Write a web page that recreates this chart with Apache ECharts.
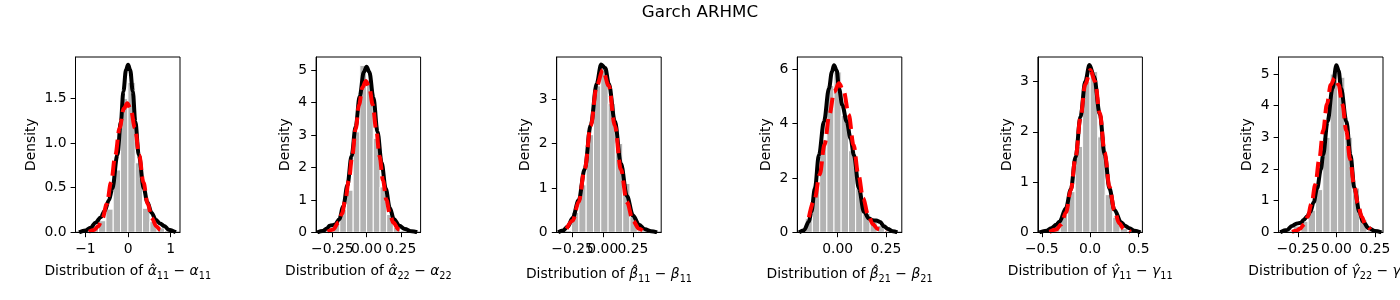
<!DOCTYPE html>
<html><head><meta charset="utf-8">
<script src="https://cdn.jsdelivr.net/npm/echarts@6/dist/echarts.min.js"></script>
<style>html,body{margin:0;padding:0;background:#fff}#c{width:1400px;height:300px}</style>
</head><body><div id="c"></div>
<script>
const titleText = 'Garch ARHMC';
const xAxisNames = [
  '{t|Distribution of }{g|α̂}{s|11}{t| − }{g|α}{s|11}',
  '{t|Distribution of }{g|α̂}{s|22}{t| − }{g|α}{s|22}',
  '{t|Distribution of }{g|β̂}{s|11}{t| − }{g|β}{s|11}',
  '{t|Distribution of }{g|β̂}{s|21}{t| − }{g|β}{s|21}',
  '{t|Distribution of }{g|γ̂}{s|11}{t| − }{g|γ}{s|11}',
  '{t|Distribution of }{g|γ̂}{s|22}{t| − }{g|γ}{s|22}'
];
const yAxisName = 'Density';

// Panel 1: alpha11
const hist1Edges = [-0.865, -0.693, -0.521, -0.349, -0.177, -0.005, 0.167, 0.339, 0.511, 0.683, 0.855];
const hist1Heights = [0.06, 0.13, 0.26, 0.70, 1.50, 1.68, 0.78, 0.27, 0.12, 0.05];
const kde1X = [-1.15, -1.0, -0.88, -0.76, -0.64, -0.55, -0.45, -0.37, -0.25, -0.17, -0.11, -0.05, 0.0, 0.05, 0.11, 0.17, 0.25, 0.37, 0.45, 0.55, 0.65, 0.75, 0.85, 0.95, 1.12];
const kde1Y = [0.0, 0.02, 0.05, 0.11, 0.17, 0.24, 0.36, 0.49, 0.87, 1.24, 1.58, 1.82, 1.88, 1.82, 1.58, 1.24, 0.87, 0.49, 0.34, 0.22, 0.14, 0.10, 0.07, 0.03, 0.0];
const norm1X = [-0.92, -0.8, -0.7, -0.6, -0.5, -0.4, -0.3, -0.2, -0.1, -0.02, 0.06, 0.16, 0.26, 0.36, 0.46, 0.56, 0.66, 0.76, 0.88];
const norm1Y = [0.007, 0.026, 0.069, 0.158, 0.317, 0.559, 0.864, 1.17, 1.388, 1.448, 1.388, 1.17, 0.864, 0.559, 0.317, 0.158, 0.069, 0.026, 0.007];
const x1Ticks = [-1, 0, 1];
const x1Labels = ['−1', '0', '1'];
const y1Ticks = [0, 0.5, 1.0, 1.5];
const y1Labels = ['0.0', '0.5', '1.0', '1.5'];

// Panel 2: alpha22
const hist2Edges = [-0.245, -0.196, -0.147, -0.098, -0.049, 0.0, 0.049, 0.098, 0.147, 0.196, 0.245];
const hist2Heights = [0.30, 0.70, 1.30, 3.10, 5.15, 4.70, 2.90, 1.40, 0.55, 0.15];
const kde2X = [-0.36, -0.32, -0.29, -0.27, -0.25, -0.23, -0.2, -0.17, -0.14, -0.11, -0.08, -0.05, -0.02, 0.0, 0.02, 0.05, 0.08, 0.11, 0.14, 0.17, 0.2, 0.24, 0.28, 0.33, 0.37];
const kde2Y = [0.0, 0.04, 0.12, 0.2, 0.22, 0.24, 0.4, 0.8, 1.45, 2.35, 3.25, 4.2, 4.95, 5.11, 4.95, 4.15, 3.1, 2.15, 1.35, 0.75, 0.4, 0.2, 0.1, 0.03, 0.0];
const norm2X = [-0.285, -0.245, -0.205, -0.18, -0.155, -0.13, -0.105, -0.08, -0.055, -0.03, -0.005, 0.02, 0.045, 0.07, 0.095, 0.12, 0.145, 0.17, 0.195, 0.235, 0.275];
const norm2Y = [0.022, 0.09, 0.30, 0.57, 1.0, 1.60, 2.35, 3.18, 3.94, 4.47, 4.67, 4.47, 3.94, 3.18, 2.35, 1.60, 1.0, 0.57, 0.30, 0.09, 0.022];
const x2Ticks = [-0.25, 0, 0.25];
const x2Labels = ['−0.25', '0.00', '0.25'];
const y2Ticks = [0, 1, 2, 3, 4, 5];
const y2Labels = ['0', '1', '2', '3', '4', '5'];

// Panel 3: beta11
const hist3Edges = [-0.259, -0.198, -0.138, -0.077, -0.017, 0.044, 0.104, 0.165, 0.225, 0.286];
const hist3Heights = [0.45, 1.07, 2.2, 3.3, 3.7, 2.9, 2.0, 1.1, 0.35];
const kde3X = [-0.37, -0.33, -0.29, -0.25, -0.2, -0.15, -0.1, -0.05, -0.014, 0.02, 0.05, 0.1, 0.15, 0.2, 0.25, 0.3, 0.35, 0.4, 0.45];
const kde3Y = [0.0, 0.04, 0.13, 0.32, 0.72, 1.42, 2.42, 3.35, 3.78, 3.7, 3.35, 2.5, 1.55, 0.82, 0.38, 0.17, 0.07, 0.025, 0.0];
const norm3X = [-0.30, -0.25, -0.2, -0.15, -0.1, -0.05, 0.0, 0.05, 0.1, 0.15, 0.2, 0.25, 0.3, 0.33];
const norm3Y = [0.08, 0.26, 0.68, 1.42, 2.40, 3.30, 3.66, 3.30, 2.40, 1.42, 0.68, 0.26, 0.08, 0.04];
const x3Ticks = [-0.25, 0, 0.25];
const x3Labels = ['−0.25', '0.00', '0.25'];
const y3Ticks = [0, 1, 2, 3];
const y3Labels = ['0', '1', '2', '3'];

// Panel 4: beta21
const hist4Edges = [-0.168, -0.131, -0.093, -0.056, -0.019, 0.018, 0.056, 0.093, 0.130, 0.168, 0.205, 0.242];
const hist4Heights = [0.5, 1.7, 3.4, 5.4, 5.9, 4.3, 3.0, 1.6, 0.7, 0.4, 0.25];
const kde4X = [-0.2, -0.175, -0.149, -0.136, -0.118, -0.097, -0.071, -0.045, -0.03, -0.019, -0.005, 0.007, 0.024, 0.047, 0.067, 0.084, 0.11, 0.136, 0.162, 0.18, 0.2, 0.22, 0.24, 0.26, 0.285, 0.309];
const kde4Y = [0.0, 0.08, 0.39, 0.76, 1.61, 2.84, 4.07, 5.29, 5.9, 6.15, 5.95, 5.29, 4.68, 4.07, 3.45, 2.84, 1.61, 0.76, 0.51, 0.44, 0.43, 0.38, 0.22, 0.12, 0.04, 0.0];
const norm4X = [-0.149, -0.12, -0.093, -0.068, -0.043, -0.018, 0.007, 0.032, 0.057, 0.082, 0.107, 0.132, 0.157, 0.182, 0.207, 0.249];
const norm4Y = [0.55, 1.20, 2.13, 3.22, 4.33, 5.17, 5.48, 5.17, 4.33, 3.22, 2.13, 1.25, 0.66, 0.30, 0.126, 0.022];
const x4Ticks = [0, 0.25];
const x4Labels = ['0.00', '0.25'];
const y4Ticks = [0, 2, 4, 6];
const y4Labels = ['0', '2', '4', '6'];

// Panel 5: gamma11
const hist5Edges = [-0.388, -0.310, -0.233, -0.155, -0.078, 0.0, 0.078, 0.155, 0.233, 0.310, 0.388];
const hist5Heights = [0.12, 0.35, 0.81, 1.71, 3.0, 3.2, 1.9, 0.75, 0.3, 0.08];
const kde5X = [-0.524, -0.45, -0.404, -0.35, -0.317, -0.25, -0.2, -0.15, -0.1, -0.05, -0.007, 0.04, 0.1, 0.15, 0.2, 0.25, 0.32, 0.36, 0.406, 0.46, 0.52];
const kde5Y = [0.0, 0.03, 0.08, 0.15, 0.21, 0.48, 0.85, 1.5, 2.3, 3.0, 3.33, 3.1, 2.35, 1.55, 0.87, 0.45, 0.2, 0.13, 0.08, 0.03, 0.0];
const norm5X = [-0.42, -0.35, -0.3, -0.25, -0.2, -0.15, -0.1, -0.05, 0.003, 0.05, 0.1, 0.15, 0.2, 0.25, 0.3, 0.35, 0.42];
const norm5Y = [0.009, 0.054, 0.159, 0.396, 0.836, 1.50, 2.28, 2.95, 3.23, 3.0, 2.37, 1.59, 0.905, 0.437, 0.179, 0.062, 0.011];
const x5Ticks = [-0.5, 0, 0.5];
const x5Labels = ['−0.5', '0.0', '0.5'];
const y5Ticks = [0, 1, 2, 3];
const y5Labels = ['0', '1', '2', '3'];

// Panel 6: gamma22
const hist6Edges = [-0.278, -0.230, -0.183, -0.135, -0.088, -0.040, 0.008, 0.055, 0.103, 0.150, 0.198];
const hist6Heights = [0.2, 0.35, 0.7, 1.35, 3.0, 5.0, 4.9, 3.0, 1.4, 0.4];
const kde6X = [-0.364, -0.32, -0.288, -0.255, -0.23, -0.212, -0.19, -0.169, -0.147, -0.125, -0.1, -0.086, -0.057, -0.025, 0.0, 0.015, 0.03, 0.065, 0.091, 0.117, 0.149, 0.171, 0.21, 0.25, 0.292];
const kde6Y = [0.0, 0.07, 0.2, 0.28, 0.3, 0.39, 0.5, 0.65, 0.95, 1.39, 2.0, 2.44, 3.5, 4.55, 5.28, 5.1, 4.55, 3.5, 2.44, 1.39, 0.65, 0.34, 0.13, 0.04, 0.0];
const norm6X = [-0.288, -0.26, -0.236, -0.211, -0.186, -0.161, -0.136, -0.111, -0.086, -0.061, -0.036, -0.011, 0.014, 0.039, 0.064, 0.089, 0.114, 0.139, 0.164, 0.189, 0.22];
const norm6Y = [0.016, 0.047, 0.111, 0.245, 0.494, 0.91, 1.52, 2.31, 3.21, 4.05, 4.66, 4.88, 4.66, 4.05, 3.21, 2.31, 1.52, 0.91, 0.494, 0.245, 0.09];
const x6Ticks = [-0.25, 0, 0.25];
const x6Labels = ['−0.25', '0.00', '0.25'];
const y6Ticks = [0, 1, 2, 3, 4, 5];
const y6Labels = ['0', '1', '2', '3', '4', '5'];

const panels = [
  {edges: hist1Edges, heights: hist1Heights, kx: kde1X, ky: kde1Y, nx: norm1X, ny: norm1Y, xt: x1Ticks, xl: x1Labels, yt: y1Ticks, yl: y1Labels, xr: [-1.234, 1.218], yr: [0, 1.967], yGap: 37, xGap: 30},
  {edges: hist2Edges, heights: hist2Heights, kx: kde2X, ky: kde2Y, nx: norm2X, ny: norm2Y, xt: x2Ticks, xl: x2Labels, yt: y2Ticks, yl: y2Labels, xr: [-0.369, 0.395], yr: [0, 5.41], yGap: 24, xGap: 30},
  {edges: hist3Edges, heights: hist3Heights, kx: kde3X, ky: kde3Y, nx: norm3X, ny: norm3Y, xt: x3Ticks, xl: x3Labels, yt: y3Ticks, yl: y3Labels, xr: [-0.382, 0.484], yr: [0, 3.95], yGap: 24, xGap: 33},
  {edges: hist4Edges, heights: hist4Heights, kx: kde4X, ky: kde4Y, nx: norm4X, ny: norm4Y, xt: x4Ticks, xl: x4Labels, yt: y4Ticks, yl: y4Labels, xr: [-0.209, 0.332], yr: [0, 6.45], yGap: 24, xGap: 33},
  {edges: hist5Edges, heights: hist5Heights, kx: kde5X, ky: kde5Y, nx: norm5X, ny: norm5Y, xt: x5Ticks, xl: x5Labels, yt: y5Ticks, yl: y5Labels, xr: [-0.54, 0.54], yr: [0, 3.49], yGap: 24, xGap: 30},
  {edges: hist6Edges, heights: hist6Heights, kx: kde6X, ky: kde6Y, nx: norm6X, ny: norm6Y, xt: x6Ticks, xl: x6Labels, yt: y6Ticks, yl: y6Labels, xr: [-0.375, 0.302], yr: [0, 5.54], yGap: 24, xGap: 30}
];

const FONT = 'DejaVu Sans';
const FS = 13.9;
const LH = 19;
const grids = [], xAxes = [], yAxes = [], series = [];
panels.forEach((p, i) => {
  grids.push({left: 75.5 + 240.6 * i, top: 57, width: 104.5, height: 175.3, show: true,
    outerBoundsMode: 'none', containLabel: false,
    borderColor: '#000', borderWidth: 1, backgroundColor: 'transparent'});
  xAxes.push({type: 'value', gridIndex: i, min: p.xr[0], max: p.xr[1], z: 10,
    name: xAxisNames[i], nameLocation: 'middle', nameGap: p.xGap, nameMoveOverlap: false,
    nameTextStyle: {rich: {
      t: {fontFamily: FONT, fontSize: FS, color: '#000', lineHeight: LH, verticalAlign: 'middle'},
      g: {fontFamily: FONT, fontSize: FS, fontStyle: 'italic', color: '#000', lineHeight: LH, verticalAlign: 'middle'},
      s: {fontFamily: FONT, fontSize: 9.7, color: '#000', lineHeight: LH, verticalAlign: 'bottom'}}},
    axisLine: {show: true, onZero: false, lineStyle: {color: '#000', width: 1}},
    axisTick: {show: true, length: 4.9, lineStyle: {color: '#000', width: 1}, customValues: p.xt},
    axisLabel: {show: false},
    splitLine: {show: false}});
  yAxes.push({type: 'value', gridIndex: i, min: p.yr[0], max: p.yr[1], z: 10,
    name: yAxisName, nameLocation: 'middle', nameGap: p.yGap, nameRotate: 90, nameMoveOverlap: false,
    nameTextStyle: {fontFamily: FONT, fontSize: FS, color: '#000'},
    axisLine: {show: true, onZero: false, lineStyle: {color: '#000', width: 1}},
    axisTick: {show: true, length: 4.9, lineStyle: {color: '#000', width: 1}, customValues: p.yt},
    axisLabel: {customValues: p.yt, interval: 0, formatter: v => p.yl[p.yt.findIndex(t => Math.abs(t - v) < 1e-9)],
      color: '#000', fontFamily: FONT, fontSize: FS, margin: 9, hideOverlap: false},
    splitLine: {show: false}});
  series.push({type: 'custom', xAxisIndex: i, yAxisIndex: i, z: 1,
    data: p.heights.map((h, k) => [p.edges[k], p.edges[k + 1], h]),
    encode: {x: [0, 1], y: 2},
    renderItem: (params, api) => {
      const a = api.coord([api.value(0), api.value(2)]);
      const b = api.coord([api.value(1), 0]);
      return {type: 'rect', shape: {x: a[0], y: a[1], width: b[0] - a[0], height: b[1] - a[1]},
        style: {fill: '#b3b3b3', stroke: '#ffffff', lineWidth: 1}};
    }});
  series.push({type: 'line', xAxisIndex: i, yAxisIndex: i, z: 3, symbol: 'none', smooth: 0.35, smoothMonotone: 'x',
    data: p.kx.map((x, k) => [x, p.ky[k]]),
    lineStyle: {color: '#000', width: 4}});
  series.push({type: 'line', xAxisIndex: i, yAxisIndex: i, z: 4, symbol: 'none', smooth: 0.35, smoothMonotone: 'x',
    data: p.nx.map((x, k) => [x, p.ny[k]]),
    lineStyle: {color: '#ff0000', width: 4, type: [15, 6.5], cap: 'butt'}});
  // x tick labels, placed through the axis scale
  series.push({type: 'custom', xAxisIndex: i, yAxisIndex: i, z: 10, clip: false, silent: true,
    data: p.xt.map((v, k) => [v, p.yr[0], k]),
    encode: {x: 0, y: 1},
    renderItem: (params, api) => {
      const c = api.coord([api.value(0), api.value(1)]);
      return {type: 'text', x: c[0], y: c[1] + 9,
        style: {text: p.xl[api.value(2)], fontFamily: FONT, fontSize: FS, fill: '#000',
          align: 'center', verticalAlign: 'top', lineHeight: 16}};
    }});
});

const chart = echarts.init(document.getElementById('c'), null, {renderer: 'canvas'});
chart.setOption({
  animation: false,
  backgroundColor: '#ffffff',
  textStyle: {fontFamily: FONT},
  title: {text: titleText, left: 'center', top: 4, padding: 0,
    textStyle: {fontFamily: FONT, fontSize: 16.7, fontWeight: 'normal', color: '#000'}},
  grid: grids, xAxis: xAxes, yAxis: yAxes, series: series
});
</script>
</body></html>
